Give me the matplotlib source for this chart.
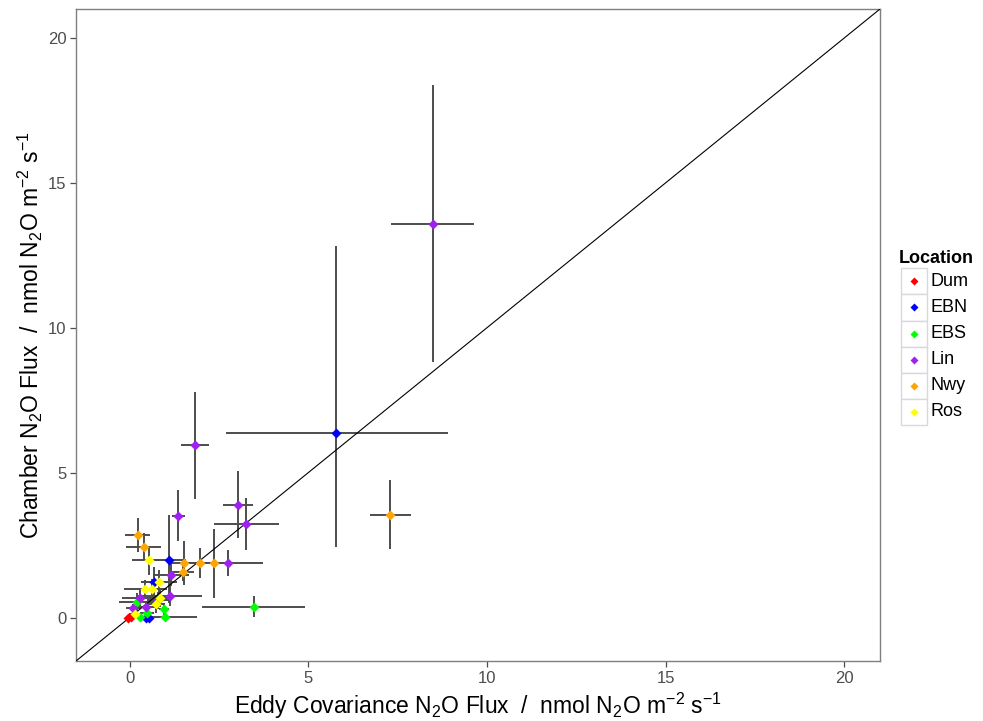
import matplotlib
matplotlib.use("Agg")
import matplotlib.pyplot as plt
from matplotlib.patches import Rectangle
from matplotlib.lines import Line2D
import numpy as np

plt.rcParams['font.family'] = ['Liberation Sans', 'DejaVu Sans']
plt.rcParams['mathtext.fontset'] = 'custom'
plt.rcParams['mathtext.rm'] = 'Liberation Sans'
plt.rcParams['mathtext.it'] = 'Liberation Sans:italic'
plt.rcParams['mathtext.bf'] = 'Liberation Sans:bold'

# ---- data ----
locations = ["Dum", "EBN", "EBS", "Lin", "Nwy", "Ros"]
loc_colors = ["#FF0000", "#0000FF", "#00FF00", "#A020F0", "#FFA500", "#FFFF00"]

loc = ["Dum", "Dum",
       "EBN", "EBN", "EBN", "EBN", "EBN",
       "EBS", "EBS", "EBS", "EBS", "EBS", "EBS",
       "Lin", "Lin", "Lin", "Lin", "Lin", "Lin", "Lin", "Lin", "Lin", "Lin", "Lin", "Lin",
       "Nwy", "Nwy", "Nwy", "Nwy", "Nwy", "Nwy", "Nwy",
       "Ros", "Ros", "Ros", "Ros", "Ros", "Ros", "Ros"]
ec_flux = [-0.05, 0.05,
           5.79, 1.09, 0.68, 0.45, 0.54,
           3.47, 0.21, 0.96, 0.48, 0.28, 0.99,
           8.48, 1.83, 1.36, 3.02, 3.27, 2.76, 1.16, 1.13, 0.30, 0.79, 0.09, 0.45,
           7.30, 0.23, 0.40, 1.52, 1.97, 2.36, 1.49,
           0.53, 0.82, 0.44, 0.62, 0.84, 0.74, 0.14]
ec_err_lo = [0.08, 0.08,
             3.08, 0.50, 0.35, 0.10, 0.10,
             1.44, 0.50, 0.15, 0.20, 0.30, 0.90,
             1.16, 0.38, 0.18, 0.42, 0.92, 0.96, 0.50, 0.90, 0.50, 0.30, 0.20, 0.30,
             0.57, 0.35, 0.49, 0.40, 0.30, 0.30, 0.30,
             0.45, 0.50, 0.60, 0.35, 0.30, 0.25, 0.15]
ec_err_hi = [0.08, 0.08,
             3.13, 0.50, 0.35, 0.10, 0.10,
             1.44, 0.50, 0.15, 0.20, 0.30, 0.90,
             1.16, 0.38, 0.18, 0.42, 0.92, 0.96, 0.50, 0.90, 0.50, 0.30, 0.20, 0.30,
             0.57, 0.35, 0.49, 0.40, 0.30, 0.30, 0.30,
             0.45, 0.50, 0.60, 0.35, 0.30, 0.25, 0.15]
ch_flux = [-0.03, 0.01,
           6.38, 2.00, 1.23, -0.01, -0.01,
           0.38, 0.53, 0.30, 0.14, 0.02, 0.01,
           13.59, 5.94, 3.51, 3.89, 3.23, 1.89, 1.48, 0.75, 0.68, 0.59, 0.32, 0.37,
           3.55, 2.85, 2.45, 1.89, 1.89, 1.87, 1.56,
           1.97, 1.23, 0.98, 0.98, 0.68, 0.45, 0.13]
ch_err_lo = [0.05, 0.05,
             3.96, 1.50, 0.50, 0.10, 0.10,
             0.35, 0.30, 0.20, 0.15, 0.10, 0.10,
             4.77, 1.85, 0.88, 1.15, 0.90, 0.44, 0.40, 0.35, 0.30, 0.30, 0.15, 0.20,
             1.20, 0.58, 0.45, 0.76, 0.52, 1.18, 0.30,
             0.50, 0.40, 0.30, 0.35, 0.30, 0.30, 0.10]
ch_err_hi = [0.05, 0.05,
             6.43, 1.55, 0.50, 0.10, 0.10,
             0.35, 0.30, 0.20, 0.15, 0.10, 0.10,
             4.79, 1.86, 0.88, 1.15, 0.90, 0.44, 0.40, 0.35, 0.30, 0.30, 0.15, 0.20,
             1.21, 0.58, 0.45, 0.76, 0.52, 1.18, 0.30,
             0.50, 0.40, 0.30, 0.35, 0.30, 0.30, 0.10]

ticks = [0, 5, 10, 15, 20]
lims = (-1.5, 21)

# ---- figure ----
W, H = 983, 721
fig = plt.figure(figsize=(W / 100, H / 100), dpi=100)
ax = fig.add_axes([76 / W, 1 - 661 / H, (880 - 76) / W, (661 - 9) / H])

x = np.array(ec_flux)
y = np.array(ch_flux)
xerr = np.vstack([ec_err_lo, ec_err_hi])
yerr = np.vstack([ch_err_lo, ch_err_hi])

ax.errorbar(x, y, xerr=xerr, yerr=yerr, fmt='none', ecolor='#4d4d4d',
            elinewidth=1.4, capsize=0, zorder=2)
ax.plot(lims, lims, color='black', lw=0.8, zorder=3)

cmap = dict(zip(locations, loc_colors))
for L in locations:
    idx = [i for i, l in enumerate(loc) if l == L]
    ax.plot(x[idx], y[idx], linestyle='none', marker='D', ms=4.7,
            mec='none', color=cmap[L], zorder=4)

ax.set_xlim(*lims)
ax.set_ylim(*lims)
ax.set_xticks(ticks)
ax.set_yticks(ticks)
ax.tick_params(axis='both', direction='out', length=4, width=0.9,
               color='#4d4d4d', labelsize=12, labelcolor='#4d4d4d', pad=3)
for s in ax.spines.values():
    s.set_color('#7f7f7f')
    s.set_linewidth(1.0)

ax.set_xlabel(r'Eddy Covariance N$_2$O Flux  /  nmol N$_2$O m$^{-2}$ s$^{-1}$',
              fontsize=16.5, color='black', labelpad=4)
ax.set_ylabel(r'Chamber N$_2$O Flux  /  nmol N$_2$O m$^{-2}$ s$^{-1}$',
              fontsize=16.5, color='black', labelpad=2)

# ---- legend (ggplot style keys) ----
def fx(px):
    return px / W

def fy(py):
    return 1 - py / H

fig.text(fx(899), fy(258), 'Location', fontsize=13, fontweight='bold',
         ha='left', va='center')
key_top = 268.3
key_h = 26.1
for i, (L, c) in enumerate(zip(locations, loc_colors)):
    top = key_top + i * key_h
    fig.add_artist(Rectangle((fx(900.5), fy(top + key_h)), fx(26.5), key_h / H,
                             facecolor='white', edgecolor='#d9d9d9', lw=1.0,
                             transform=fig.transFigure))
    fig.add_artist(Line2D([fx(913.5)], [fy(top + key_h / 2)], marker='D', ms=4.3,
                          mec='none', color=c, linestyle='none',
                          transform=fig.transFigure))
    fig.text(fx(931), fy(top + key_h / 2), L, fontsize=13, ha='left',
             va='center', color='black')

fig.savefig('out.png', dpi=100)
